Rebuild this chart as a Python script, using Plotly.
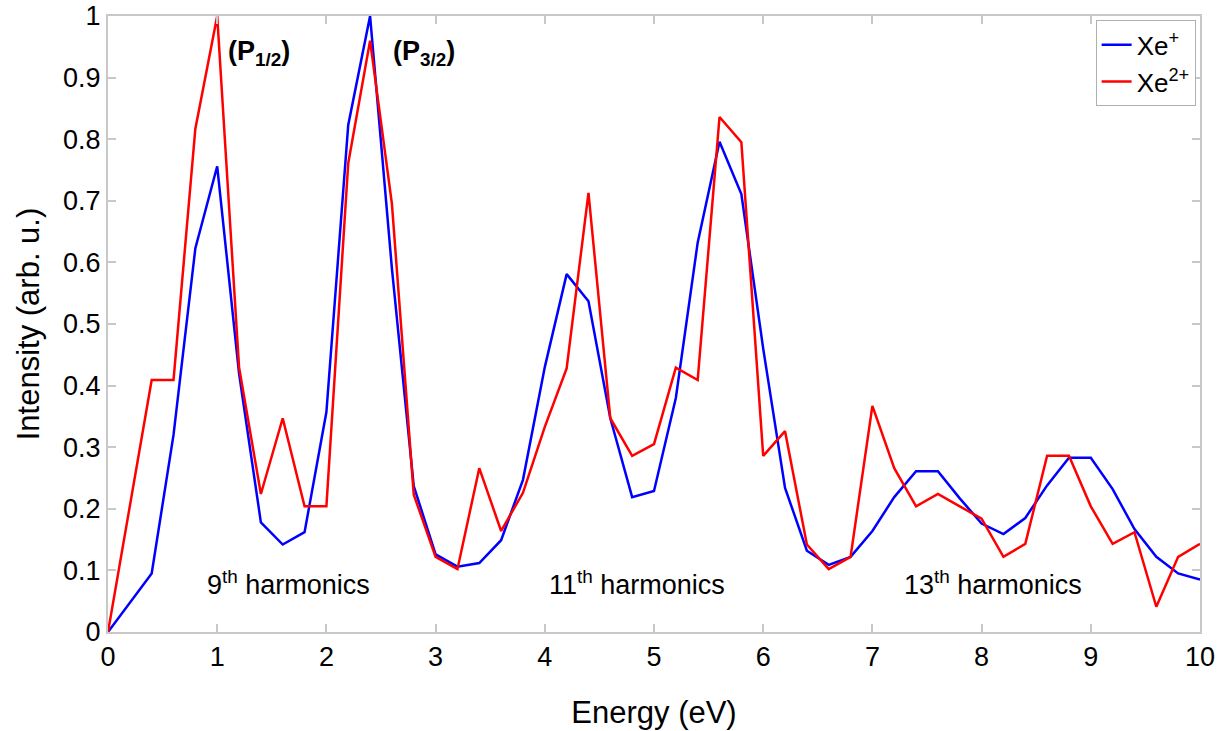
import plotly.graph_objects as go

# Photoelectron energy spectra of Xe ions (intensity normalised)
energy_xe1 = [0, 0.4, 0.6, 0.8, 1.0, 1.2, 1.4, 1.6, 1.8, 2.0, 2.2, 2.4, 2.6, 2.8, 3.0,
              3.2, 3.4, 3.6, 3.8, 4.0, 4.2, 4.4, 4.6, 4.8, 5.0, 5.2, 5.4, 5.6, 5.8, 6.0,
              6.2, 6.4, 6.6, 6.8, 7.0, 7.2, 7.4, 7.6, 7.8, 8.0, 8.2, 8.4, 8.6, 8.8, 9.0,
              9.2, 9.4, 9.6, 9.8, 10.0]
intensity_xe1 = [0, 0.095, 0.32, 0.623, 0.756, 0.42, 0.178, 0.142, 0.162, 0.357, 0.823, 1.0,
                 0.59, 0.237, 0.126, 0.106, 0.112, 0.149, 0.247, 0.43, 0.581, 0.537, 0.347,
                 0.219, 0.229, 0.38, 0.632, 0.796, 0.711, 0.46, 0.234, 0.132, 0.109, 0.122,
                 0.164, 0.219, 0.261, 0.261, 0.217, 0.176, 0.159, 0.185, 0.238, 0.283, 0.283,
                 0.232, 0.167, 0.122, 0.095, 0.085]

energy_xe2 = [0, 0.4, 0.6, 0.8, 1.0, 1.2, 1.4, 1.6, 1.8, 2.0, 2.2, 2.4, 2.6, 2.8, 3.0,
              3.2, 3.4, 3.6, 3.8, 4.0, 4.2, 4.4, 4.6, 4.8, 5.0, 5.2, 5.4, 5.6, 5.8, 6.0,
              6.2, 6.4, 6.6, 6.8, 7.0, 7.2, 7.4, 7.6, 7.8, 8.0, 8.2, 8.4, 8.6, 8.8, 9.0,
              9.2, 9.4, 9.6, 9.8, 10.0]
intensity_xe2 = [0, 0.409, 0.409, 0.817, 1.0, 0.43, 0.224, 0.347, 0.204, 0.204, 0.761, 0.96,
                 0.695, 0.223, 0.122, 0.102, 0.266, 0.164, 0.226, 0.333, 0.428, 0.713, 0.347,
                 0.286, 0.305, 0.429, 0.409, 0.836, 0.795, 0.286, 0.326, 0.142, 0.102, 0.122,
                 0.367, 0.266, 0.204, 0.224, 0.204, 0.184, 0.122, 0.143, 0.286, 0.286, 0.204,
                 0.143, 0.162, 0.041, 0.122, 0.143]

series_names = ["Xe<sup>+</sup>", "Xe<sup>2+</sup>"]
series_colors = ["#0000ff", "#ff0000"]

peak_labels = ["<b>(P<sub>1/2</sub>)</b>", "<b>(P<sub>3/2</sub>)</b>"]
peak_x = [1.38, 2.89]
peak_y = [0.94, 0.94]

harmonic_labels = ["9<sup>th</sup> harmonics", "11<sup>th</sup> harmonics",
                   "13<sup>th</sup> harmonics"]
harmonic_x = [1.65, 4.84, 8.1]
harmonic_y = [0.08, 0.08, 0.08]

x_ticks = list(range(0, 11))
y_ticks = [0, 0.1, 0.2, 0.3, 0.4, 0.5, 0.6, 0.7, 0.8, 0.9, 1]
y_tick_text = ["0", "0.1", "0.2", "0.3", "0.4", "0.5", "0.6", "0.7", "0.8", "0.9", "1"]

FONT = "Liberation Sans, Arial, sans-serif"

fig = go.Figure()
for xs, ys, name, color in zip([energy_xe1, energy_xe2], [intensity_xe1, intensity_xe2],
                               series_names, series_colors):
    fig.add_trace(go.Scatter(x=xs, y=ys, mode="lines", name=name, cliponaxis=False,
                             line=dict(color=color, width=2.5)))

for txt, x, y in zip(peak_labels, peak_x, peak_y):
    fig.add_annotation(x=x, y=y, text=txt, showarrow=False,
                       font=dict(family=FONT, size=27, color="black"))
for txt, x, y in zip(harmonic_labels, harmonic_x, harmonic_y):
    fig.add_annotation(x=x, y=y, text=txt, showarrow=False,
                       font=dict(family=FONT, size=27, color="black"))

axis_common = dict(showline=True, linecolor="#c8c8c8", linewidth=2, mirror="ticks",
                   ticks="inside", ticklen=8, tickcolor="#c8c8c8", tickwidth=1.5,
                   showgrid=False, zeroline=False, automargin=False,
                   tickfont=dict(family=FONT, size=27, color="black"))

fig.update_xaxes(range=[0, 10], tickvals=x_ticks,
                 title=dict(text="Energy (eV)", font=dict(family=FONT, size=31, color="black"),
                            standoff=30),
                 **axis_common)
fig.update_yaxes(range=[0, 1], tickvals=y_ticks, ticktext=y_tick_text,
                 title=dict(text="Intensity (arb. u.)",
                            font=dict(family=FONT, size=31, color="black"), standoff=14),
                 **axis_common)

fig.update_layout(
    width=1223, height=731,
    margin=dict(l=108, r=23, t=16, b=99),
    plot_bgcolor="white", paper_bgcolor="white",
    font=dict(family=FONT, color="black"),
    legend=dict(x=0.996, y=0.993, xanchor="right", yanchor="top",
                bgcolor="white", bordercolor="#b0b0b0", borderwidth=1,
                font=dict(family=FONT, size=26, color="black"),
                tracegroupgap=0, itemwidth=30),
    showlegend=True,
)

fig.write_html("out.html")
